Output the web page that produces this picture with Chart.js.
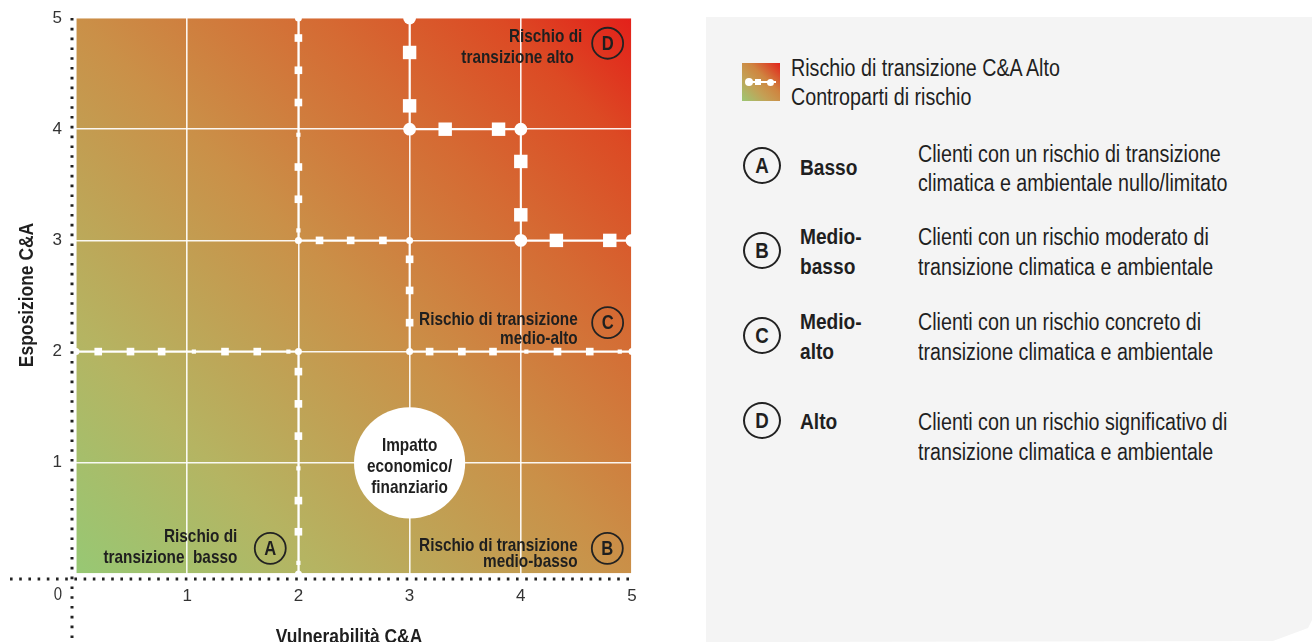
<!DOCTYPE html>
<html lang="it">
<head>
<meta charset="utf-8">
<title>Rischio di transizione C&amp;A</title>
<script src="https://cdn.jsdelivr.net/npm/chart.js@4.4.1/dist/chart.umd.min.js"></script>
<style>
  html, body { margin: 0; padding: 0; background: #fff; }
  body {
    width: 1312px; height: 642px; position: relative; overflow: hidden;
    font-family: "Liberation Sans", Arial, sans-serif;
    color: #1f1f1f;
  }
  #wrap { position: absolute; left: 0; top: 0; width: 706px; height: 642px; }
  #matrix { display: block; }
  #panel {
    position: absolute; left: 706px; top: 17px; width: 606px; height: 625px;
    background: #f4f4f4;
    clip-path: polygon(0 0, 606px 0, 606px 603px, 602px 611px, 567px 624px, 0 625px);
  }
  /* Arial Narrow non c'e': Liberation Sans compressa in orizzontale */
  #panel .t {
    position: absolute; font-size: 23px; white-space: nowrap;
    transform: scaleX(0.855); transform-origin: 0 0;
  }
  #panel .b { font-weight: bold; font-size: 22px; transform: scaleX(0.87); }
  .swatch {
    position: absolute; left: 36px; top: 46px; width: 38px; height: 38px;
    background: linear-gradient(to top right, #9cc774 0%, #c4a055 35%, #cf8540 60%, #e2231b 100%);
  }
  .swatch i { position: absolute; background: #fff; }
  .letter {
    position: absolute; width: 38px; height: 37px; box-sizing: border-box;
    border: 2px solid #222; border-radius: 50%;
    font-weight: bold; font-size: 22px; line-height: 33px; text-align: center;
  }
  .letter span { display: inline-block; transform: scaleX(0.85); }
</style>
</head>
<body>
<div id="wrap"><canvas id="matrix" width="706" height="642"></canvas></div>

<div id="panel">
  <div class="swatch">
    <i style="left:4px; top:18px; width:30px; height:2px;"></i>
    <i style="left:3px; top:15px; width:8px; height:8px; border-radius:50%;"></i>
    <i style="left:13px; top:16px; width:6px; height:6px;"></i>
    <i style="left:25px; top:16px; width:7px; height:7px; border-radius:50%;"></i>
  </div>
  <div class="t" style="left:85px; top:37px; line-height:29px;">Rischio di transizione C&amp;A Alto<br>Controparti di rischio</div>

  <div class="letter" style="left:37px; top:130px;"><span>A</span></div>
  <div class="t b" style="left:94px; top:136px; line-height:29px;">Basso</div>
  <div class="t" style="left:212px; top:123px; line-height:29px;">Clienti con un rischio di transizione<br>climatica e ambientale nullo/limitato</div>

  <div class="letter" style="left:37px; top:215px;"><span>B</span></div>
  <div class="t b" style="left:94px; top:205px; line-height:30px;">Medio-<br>basso</div>
  <div class="t" style="left:212px; top:205px; line-height:30px;">Clienti con un rischio moderato di<br>transizione climatica e ambientale</div>

  <div class="letter" style="left:37px; top:300px;"><span>C</span></div>
  <div class="t b" style="left:94px; top:290px; line-height:30px;">Medio-<br>alto</div>
  <div class="t" style="left:212px; top:290px; line-height:30px;">Clienti con un rischio concreto di<br>transizione climatica e ambientale</div>

  <div class="letter" style="left:37px; top:385px;"><span>D</span></div>
  <div class="t b" style="left:94px; top:390px; line-height:30px;">Alto</div>
  <div class="t" style="left:212px; top:390px; line-height:30px;">Clienti con un rischio significativo di<br>transizione climatica e ambientale</div>
</div>

<script>
// scala 0-5 su entrambi gli assi
const tickLabels = ['', '1', '2', '3', '4', '5'];

// confine rischio basso (A)
const lowX = [0, 0.2, 0.49, 0.77, 1.06, 1.34, 1.63, 1.91, 2, 2, 2, 2, 2, 2, 2, 2, 2];
const lowY = [2, 2, 2, 2, 2, 2, 2, 2, 2, 1.82, 1.53, 1.24, 0.95, 0.66, 0.38, 0.1, 0];

// confine medio-basso / medio-alto
const midX = [2, 2, 2, 2, 2, 2, 2, 2, 2, 2.19, 2.47, 2.76, 3, 3, 3, 3, 3, 3.18, 3.47, 3.75, 4.05, 4.33, 4.62, 4.89, 5];
const midY = [5, 4.82, 4.53, 4.24, 3.95, 3.66, 3.37, 3.09, 3, 3, 3, 3, 3, 2.83, 2.55, 2.26, 2, 2, 2, 2, 2, 2, 2, 2, 2];

// confine rischio alto (D)
const highX = [3, 3, 3, 3, 3.32, 3.8, 4, 4, 4, 4, 4.32, 4.8, 5];
const highY = [5, 4.69, 4.21, 4, 4, 4, 4, 3.71, 3.23, 3, 3, 3, 3];

const toPoints = (xs, ys) => xs.map((x, i) => ({ x: x, y: ys[i] }));

const FONT = '"Liberation Sans", Arial, sans-serif';
const NARROW = 0.83;
const INK = '#1f1f1f';

function isCorner(p) {
  return Number.isInteger(p.x) && Number.isInteger(p.y);
}
function nearCorner(p) {
  const d = Math.hypot(p.x - Math.round(p.x), p.y - Math.round(p.y));
  return !isCorner(p) && d < 0.15;
}
function markerLine(points, sq, dot) {
  return {
    data: points,
    showLine: true,
    borderColor: '#fff',
    borderWidth: 2,
    backgroundColor: '#fff',
    pointBackgroundColor: '#fff',
    pointBorderWidth: 0,
    pointStyle: c => isCorner(c.raw) ? 'circle' : 'rect',
    pointRadius: c => isCorner(c.raw) ? dot : (nearCorner(c.raw) ? sq * 0.55 : sq)
  };
}

// testo "narrow": Liberation Sans schiacciata in orizzontale
function narrowText(ctx, text, x, y, align) {
  ctx.save();
  ctx.translate(x, y);
  ctx.scale(NARROW, 1);
  ctx.textAlign = align;
  ctx.fillText(text, 0, 0);
  ctx.restore();
}

const backdrop = {
  id: 'backdrop',
  beforeDraw(chart) {
    const { ctx, chartArea: a } = chart;
    const g = ctx.createLinearGradient(a.left, a.bottom, a.right, a.top);
    g.addColorStop(0, '#97c874');
    g.addColorStop(0.22, '#b5b462');
    g.addColorStop(0.5, '#ca9048');
    g.addColorStop(0.72, '#d56a33');
    g.addColorStop(0.88, '#dc4a24');
    g.addColorStop(1, '#e3201a');
    ctx.save();
    ctx.fillStyle = g;
    ctx.fillRect(a.left, a.top, a.width, a.height);

    // assi punteggiati
    ctx.strokeStyle = '#222';
    ctx.lineWidth = 3;
    ctx.setLineDash([2.6, 6.6]);
    ctx.beginPath();
    ctx.moveTo(10, a.bottom + 5);
    ctx.lineTo(a.right + 1, a.bottom + 5);
    ctx.stroke();
    ctx.setLineDash([2.6, 7.2]);
    ctx.beginPath();
    ctx.moveTo(a.left - 4, a.top);
    ctx.lineTo(a.left - 4, chart.height);
    ctx.stroke();
    ctx.restore();
  }
};

const notes = {
  id: 'notes',
  afterDatasetsDraw(chart) {
    const { ctx, chartArea: a } = chart;
    const xs = chart.scales.x, ys = chart.scales.y;
    const px = v => xs.getPixelForValue(v);
    const py = v => ys.getPixelForValue(v);
    ctx.save();

    // cerchio impatto economico
    const r = px(3.5) - px(3);
    ctx.fillStyle = '#fff';
    ctx.beginPath();
    ctx.arc(px(3), py(1), r, 0, Math.PI * 2);
    ctx.fill();
    ctx.fillStyle = INK;
    ctx.font = 'bold 18.5px ' + FONT;
    ctx.textBaseline = 'alphabetic';
    [['Impatto', -18], ['economico/', 3], ['finanziario', 24]].forEach(([t, d]) => {
      narrowText(ctx, t, px(3), py(1) + d + 6.5, 'center');
    });

    // etichette dei quadranti
    const labels = [
      ['Rischio di', 1.451, 0.344],
      ['transizione  basso', 1.451, 0.156],
      ['Rischio di transizione', 4.512, 0.267],
      ['medio-basso', 4.512, 0.117],
      ['Rischio di transizione', 4.512, 2.299],
      ['medio-alto', 4.512, 2.129],
      ['Rischio di', 4.553, 4.841],
      ['transizione alto', 4.478, 4.652]
    ];
    labels.forEach(([t, x, y]) => narrowText(ctx, t, px(x), py(y) + 6.5, 'right'));

    // cerchi con lettera
    const badges = [['A', 1.747, 0.231], ['B', 4.778, 0.231], ['C', 4.781, 2.26], ['D', 4.781, 4.773]];
    ctx.textBaseline = 'middle';
    ctx.font = 'bold 20px ' + FONT;
    ctx.strokeStyle = '#222';
    ctx.lineWidth = 1.8;
    badges.forEach(([t, x, y]) => {
      ctx.beginPath();
      ctx.arc(px(x), py(y), 15.5, 0, Math.PI * 2);
      ctx.stroke();
      narrowText(ctx, t, px(x), py(y) + 1, 'center');
    });

    // origine e titoli degli assi
    ctx.font = '18px ' + FONT;
    ctx.fillStyle = '#333';
    narrowText(ctx, '0', a.left - 14, a.bottom + 21, 'right');

    ctx.fillStyle = INK;
    ctx.font = 'bold 21px ' + FONT;
    ctx.textBaseline = 'alphabetic';
    narrowText(ctx, 'Vulnerabilità C&A', 349, chart.height + 1, 'center');
    ctx.translate(33, 295);
    ctx.rotate(-Math.PI / 2);
    narrowText(ctx, 'Esposizione C&A', 0, 0, 'center');
    ctx.restore();
  }
};

// toglie il margine che Chart.js riserva per le etichette estreme
function fixedBox(size) {
  return s => {
    if (s.isHorizontal()) { s.height = size; s.paddingLeft = 0; s.paddingRight = 0; }
    else { s.width = size; s.paddingTop = 0; s.paddingBottom = 0; }
  };
}

new Chart(document.getElementById('matrix'), {
  type: 'scatter',
  data: {
    datasets: [
      markerLine(toPoints(lowX, lowY), 5.4, 3.5),
      markerLine(toPoints(midX, midY), 5.4, 3.5),
      markerLine(toPoints(highX, highY), 9.5, 6.4)
    ]
  },
  options: {
    responsive: false,
    animation: false,
    events: [],
    layout: { padding: { top: 18, right: 74, left: 0, bottom: 0 } },
    plugins: { legend: { display: false }, tooltip: { enabled: false } },
    scales: {
      x: {
        min: 0, max: 5,
        border: { display: false },
        grid: { color: 'rgba(255,255,255,0.92)', lineWidth: 1.6, drawTicks: false },
        ticks: {
          stepSize: 1, padding: 12, color: '#333',
          font: { family: FONT, size: 17 },
          callback: (v, i) => tickLabels[v]
        },
        afterFit: fixedBox(68)
      },
      y: {
        min: 0, max: 5,
        border: { display: false },
        grid: { color: 'rgba(255,255,255,0.92)', lineWidth: 1.6, drawTicks: false },
        ticks: {
          stepSize: 1, padding: 14, color: '#333',
          font: { family: FONT, size: 17 },
          callback: (v, i) => tickLabels[v]
        },
        afterFit: fixedBox(76)
      }
    }
  },
  plugins: [backdrop, notes]
});
</script>
</body>
</html>
